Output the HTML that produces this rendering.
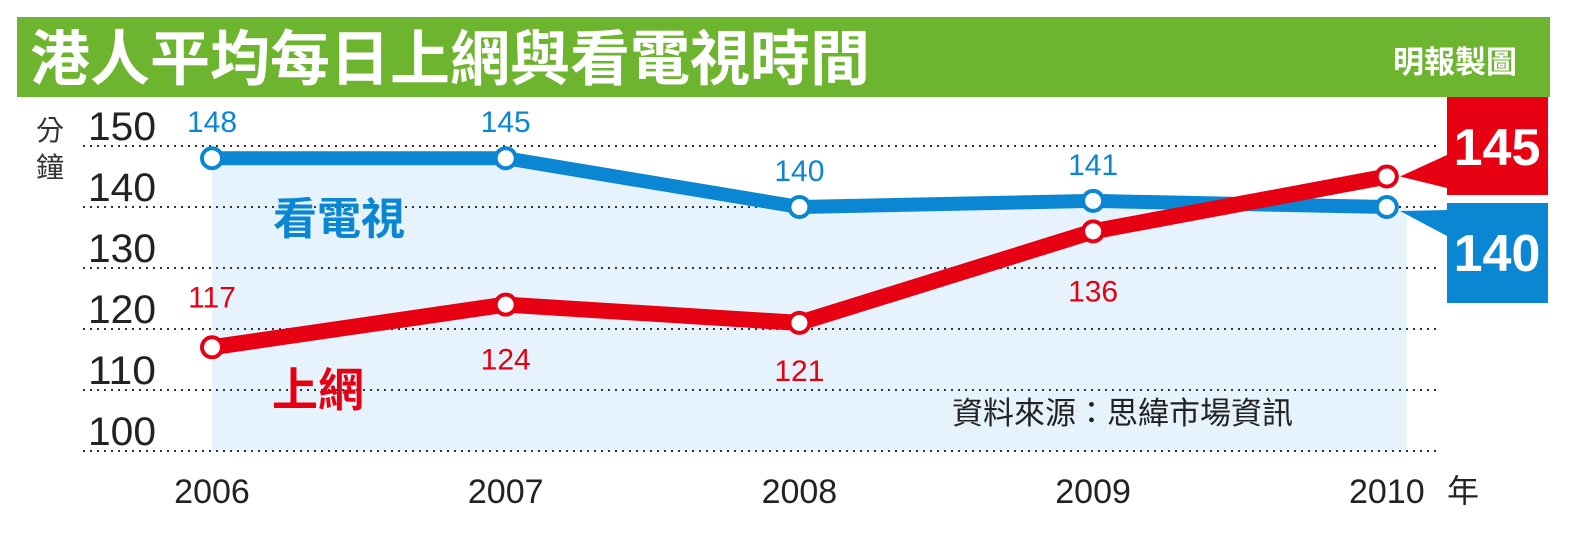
<!DOCTYPE html>
<html><head><meta charset="utf-8"><style>
body{margin:0;background:#fff;width:1591px;height:540px;overflow:hidden;font-family:"Liberation Sans","Noto Sans CJK TC",sans-serif}
</style></head><body>
<svg width="1591" height="540" xmlns="http://www.w3.org/2000/svg" style="font-family:'Liberation Sans','Noto Sans CJK TC',sans-serif">
<rect x="17" y="17" width="1533" height="80" fill="#6db42f"/>
<text x="30" y="80" font-size="60" font-weight="bold" fill="#fff">港人平均每日上網與看電視時間</text>
<text x="1517" y="73" font-size="31" font-weight="bold" fill="#fff" text-anchor="end">明報製圖</text>
<g id="plot"></g>
</svg>
<script>
const years=["2006","2007","2008","2009","2010"];
const tvValues=[148,148,140,141,140];
const tvLabels=["148","145","140","141","140"];
const netValues=[117,124,121,136,145];
const netLabels=["117","124","121","136","145"];
const yTicks=[100,110,120,130,140,150];
const NS="http://www.w3.org/2000/svg";
const g=document.getElementById('plot');
const X=i=>212+i*293.7;
const Y=v=>451-(v-100)*6.1;
function mk(t,a,txt){const e=document.createElementNS(NS,t);for(const k in a)e.setAttribute(k,a[k]);if(txt!==undefined)e.textContent=txt;g.appendChild(e);return e;}
let d='M'+X(0)+','+Y(100);tvValues.forEach((v,i)=>d+=' L'+X(i)+','+Y(v));d+=' L'+(X(4)+20)+','+Y(tvValues[4])+' L'+(X(4)+20)+','+Y(100)+'Z';
let f=mk('path',{d:d,fill:'#e6f3fc'});


yTicks.forEach(t=>{
 let l=mk('line',{x1:83,x2:1440,y1:Y(t),y2:Y(t),stroke:'#333','stroke-width':2,'stroke-dasharray':'2 5'});
 
 
 let tx=mk('text',{x:156,y:Y(t)-6,'font-size':40,fill:'#222','text-anchor':'end','textLength':68,'lengthAdjust':'spacingAndGlyphs'},String(t));
 
 
});
let u=mk('text',{x:36,y:140,'font-size':28,fill:'#333'},'分');


let u2=mk('text',{x:36,y:177,'font-size':28,fill:'#333'},'鐘');


years.forEach((y,i)=>{
 let t=mk('text',{x:X(i),y:503,'font-size':34,fill:'#222','text-anchor':'middle'},y);
 
 
});
let yr=mk('text',{x:1447,y:502,'font-size':32,fill:'#222'},'年');


function series(vals,labels,color,w,name,labelPos){
 let p=mk('polyline',{points:vals.map((v,i)=>X(i)+','+Y(v)).join(' '),fill:'none',stroke:color,'stroke-width':w,'stroke-linejoin':'round'});
 
 
 vals.forEach((v,i)=>{
  let c=mk('circle',{cx:X(i),cy:Y(v),r:10,fill:'#fff',stroke:color,'stroke-width':4});
  
  
  if(i<4){
   const dy=labelPos(i);
   let t=mk('text',{x:X(i),y:Y(v)+dy,'font-size':30,fill:color,'text-anchor':'middle'},labels[i]);
   
   
  }
 });
}
series(tvValues,tvLabels,'#0a86d2',14,'tv',i=>-26);
series(netValues,netLabels,'#e60012',16,'net',i=>[-40,65,58,70][i]);
let a=mk('text',{x:273,y:234,'font-size':44,'font-weight':'bold',fill:'#0a86d2'},'看電視');


let b=mk('text',{x:272,y:406,'font-size':46,'font-weight':'bold',fill:'#e60012'},'上網');


let s=mk('text',{x:952,y:424,'font-size':31,fill:'#222'},'資料來源：思緯市場資訊');


let rb=mk('path',{d:'M1447,97 H1548 V195 H1447 V188 L1400,'+Y(netValues[4])+' L1447,155 Z',fill:'#e60012'});


let rt=mk('text',{x:1497,y:165,'font-size':52,'font-weight':'bold',fill:'#fff','text-anchor':'middle'},netLabels[4]);


let bb=mk('path',{d:'M1447,203 H1548 V303 H1447 V236 L1400,'+(Y(tvValues[4])+4)+' L1447,210 Z',fill:'#0a86d2'});


let bt=mk('text',{x:1497,y:271,'font-size':52,'font-weight':'bold',fill:'#fff','text-anchor':'middle'},tvLabels[4]);


</script>
</body></html>
